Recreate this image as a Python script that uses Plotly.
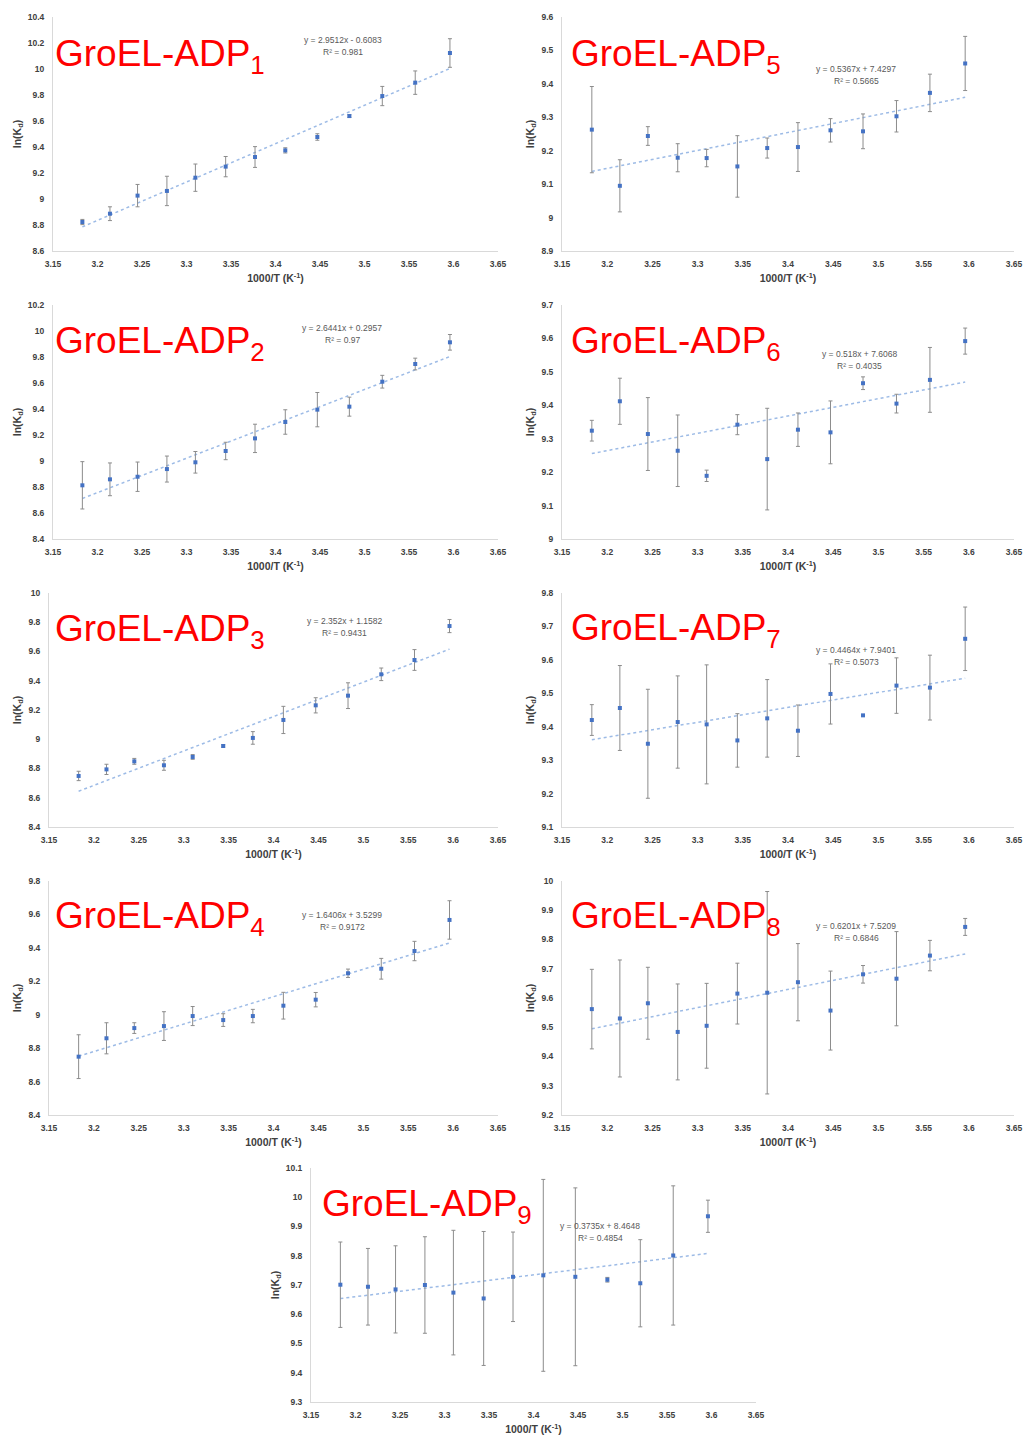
import plotly.graph_objects as go

W, H = 1024, 1442

# ---------------- data ----------------
x_vals = [3.183, 3.214, 3.245, 3.278, 3.310, 3.344, 3.377, 3.411, 3.447, 3.483, 3.520, 3.557, 3.596]

panel_names = ["GroEL-ADP<sub>1</sub>", "GroEL-ADP<sub>2</sub>", "GroEL-ADP<sub>3</sub>",
               "GroEL-ADP<sub>4</sub>", "GroEL-ADP<sub>5</sub>", "GroEL-ADP<sub>6</sub>",
               "GroEL-ADP<sub>7</sub>", "GroEL-ADP<sub>8</sub>", "GroEL-ADP<sub>9</sub>"]

y_adp1 = [8.823, 8.887, 9.026, 9.062, 9.164, 9.249, 9.323, 9.374, 9.477, 9.638, 9.792, 9.895, 10.123]
e_adp1 = [0.020, 0.053, 0.086, 0.113, 0.105, 0.078, 0.080, 0.020, 0.025, 0.010, 0.074, 0.090, 0.110]

y_adp2 = [8.813, 8.859, 8.879, 8.938, 8.990, 9.077, 9.174, 9.300, 9.395, 9.418, 9.610, 9.746, 9.913]
e_adp2 = [0.182, 0.126, 0.113, 0.100, 0.083, 0.067, 0.109, 0.094, 0.132, 0.073, 0.049, 0.045, 0.060]

y_adp3 = [8.749, 8.794, 8.849, 8.822, 8.879, 8.954, 9.009, 9.132, 9.232, 9.298, 9.444, 9.542, 9.774]
e_adp3 = [0.032, 0.035, 0.020, 0.034, 0.016, 0.008, 0.043, 0.093, 0.052, 0.088, 0.043, 0.071, 0.045]

y_adp4 = [8.749, 8.859, 8.920, 8.932, 8.992, 8.968, 8.992, 9.054, 9.090, 9.248, 9.275, 9.381, 9.567]
e_adp4 = [0.131, 0.093, 0.032, 0.086, 0.057, 0.038, 0.040, 0.080, 0.043, 0.025, 0.062, 0.058, 0.115]

y_adp5 = [9.263, 9.095, 9.244, 9.179, 9.178, 9.153, 9.208, 9.211, 9.261, 9.258, 9.303, 9.373, 9.461]
e_adp5 = [0.129, 0.078, 0.028, 0.042, 0.026, 0.092, 0.030, 0.073, 0.035, 0.052, 0.047, 0.056, 0.081]

y_adp6 = [9.324, 9.412, 9.314, 9.264, 9.189, 9.342, 9.239, 9.327, 9.319, 9.466, 9.405, 9.476, 9.592]
e_adp6 = [0.031, 0.069, 0.109, 0.107, 0.017, 0.030, 0.152, 0.050, 0.094, 0.019, 0.028, 0.097, 0.039]

y_adp7 = [9.420, 9.456, 9.349, 9.414, 9.407, 9.359, 9.425, 9.388, 9.498, 9.434, 9.523, 9.517, 9.663]
e_adp7 = [0.046, 0.127, 0.163, 0.138, 0.178, 0.080, 0.116, 0.077, 0.090, 0.000, 0.083, 0.097, 0.095]

y_adp8 = [9.562, 9.530, 9.582, 9.484, 9.505, 9.615, 9.618, 9.654, 9.557, 9.681, 9.666, 9.745, 9.843]
e_adp8 = [0.136, 0.200, 0.123, 0.164, 0.145, 0.104, 0.346, 0.132, 0.135, 0.030, 0.161, 0.052, 0.029]

y_adp9 = [9.701, 9.694, 9.685, 9.700, 9.674, 9.654, 9.728, 9.733, 9.728, 9.718, 9.706, 9.801, 9.935]
e_adp9 = [0.146, 0.131, 0.149, 0.165, 0.213, 0.229, 0.153, 0.328, 0.304, 0.008, 0.149, 0.238, 0.055]

fit_slope = [2.9512, 2.6441, 2.352, 1.6406, 0.5367, 0.518, 0.4464, 0.6201, 0.3735]
fit_intercept = [-0.6083, 0.2957, 1.1582, 3.5299, 7.4297, 7.6068, 7.9401, 7.5209, 8.4648]
fit_eq_text = ["y = 2.9512x - 0.6083", "y = 2.6441x + 0.2957", "y = 2.352x + 1.1582",
               "y = 1.6406x + 3.5299", "y = 0.5367x + 7.4297", "y = 0.518x + 7.6068",
               "y = 0.4464x + 7.9401", "y = 0.6201x + 7.5209", "y = 0.3735x + 8.4648"]
fit_r2_text = ["R² = 0.981", "R² = 0.97", "R² = 0.9431", "R² = 0.9172", "R² = 0.5665",
               "R² = 0.4035", "R² = 0.5073", "R² = 0.6846", "R² = 0.4854"]

x_tick_vals = [3.15, 3.2, 3.25, 3.3, 3.35, 3.4, 3.45, 3.5, 3.55, 3.6, 3.65]
x_tick_text = ["3.15", "3.2", "3.25", "3.3", "3.35", "3.4", "3.45", "3.5", "3.55", "3.6", "3.65"]

y_ticks = [
    [8.6, 8.8, 9.0, 9.2, 9.4, 9.6, 9.8, 10.0, 10.2, 10.4],
    [8.4, 8.6, 8.8, 9.0, 9.2, 9.4, 9.6, 9.8, 10.0, 10.2],
    [8.4, 8.6, 8.8, 9.0, 9.2, 9.4, 9.6, 9.8, 10.0],
    [8.4, 8.6, 8.8, 9.0, 9.2, 9.4, 9.6, 9.8],
    [8.9, 9.0, 9.1, 9.2, 9.3, 9.4, 9.5, 9.6],
    [9.0, 9.1, 9.2, 9.3, 9.4, 9.5, 9.6, 9.7],
    [9.1, 9.2, 9.3, 9.4, 9.5, 9.6, 9.7, 9.8],
    [9.2, 9.3, 9.4, 9.5, 9.6, 9.7, 9.8, 9.9, 10.0],
    [9.3, 9.4, 9.5, 9.6, 9.7, 9.8, 9.9, 10.0, 10.1],
]

ys = [y_adp1, y_adp2, y_adp3, y_adp4, y_adp5, y_adp6, y_adp7, y_adp8, y_adp9]
es = [e_adp1, e_adp2, e_adp3, e_adp4, e_adp5, e_adp6, e_adp7, e_adp8, e_adp9]

# ---------------- layout (pixel boxes: left, right, top, bottom) ----------------
boxes = [
    (53, 498, 17, 251), (53, 498, 305, 539), (49, 498, 593, 827), (49, 498, 881, 1115),
    (562, 1014, 17, 251), (562, 1014, 305, 539), (562, 1014, 593, 827), (562, 1014, 881, 1115),
    (311, 756, 1168, 1402),
]
title_pos = [(53, 56), (53, 343), (53, 631), (53, 918),
             (569, 56), (569, 343), (569, 630), (569, 918), (320, 1206)]
eq_pos = [(343, 40), (342, 328), (344, 621), (342, 915),
          (856, 69), (859, 354), (856, 650), (856, 926), (600, 1226)]

def px(xp):
    return xp / W

def py(yp):
    return 1 - yp / H

fig = go.Figure()
annotations = []
tick_font = dict(family="Liberation Sans", size=8.5, color="#404040", weight="bold")
title_font = dict(family="Liberation Sans", size=10.5, color="#404040", weight="bold")

for i in range(9):
    k = i + 1
    xa = "x" if k == 1 else f"x{k}"
    ya = "y" if k == 1 else f"y{k}"
    y = ys[i]
    e = es[i]
    # trendline
    xt = [x_vals[0], x_vals[-1]]
    yt = [fit_slope[i] * xv + fit_intercept[i] for xv in xt]
    fig.add_trace(go.Scatter(x=xt, y=yt, mode="lines", xaxis=xa, yaxis=ya,
                             line=dict(color="#9DBBE6", width=1.5, dash="dot"),
                             showlegend=False, hoverinfo="skip"))
    fig.add_trace(go.Scatter(x=x_vals, y=y, mode="markers", xaxis=xa, yaxis=ya,
                             marker=dict(symbol="square", size=4, color="#4472C4"),
                             error_y=dict(type="data", array=e, visible=True,
                                          color="#8C8C8C", thickness=1, width=2),
                             showlegend=False))
    l, r, t, b = boxes[i]
    yt_vals = y_ticks[i]
    yt_text = [f"{v:g}" for v in yt_vals]
    xkey = "xaxis" if k == 1 else f"xaxis{k}"
    ykey = "yaxis" if k == 1 else f"yaxis{k}"
    fig.layout[xkey] = dict(domain=[px(l), px(r)], anchor=ya, range=[3.15, 3.65],
                            automargin=False,
                            tickmode="array", tickvals=x_tick_vals, ticktext=x_tick_text,
                            showgrid=False, zeroline=False, showline=True,
                            linecolor="#D9D9D9", linewidth=1, ticks="",
                            ticklabelstandoff=5,
                            tickfont=tick_font,
                            title=dict(text="1000/T (K<sup>-1</sup>)", font=title_font, standoff=6))
    fig.layout[ykey] = dict(domain=[py(b), py(t)], anchor=xa,
                            automargin=False,
                            range=[yt_vals[0], yt_vals[-1]],
                            tickmode="array", tickvals=yt_vals, ticktext=yt_text,
                            showgrid=False, zeroline=False, showline=True,
                            linecolor="#D9D9D9", linewidth=1, ticks="",
                            ticklabelstandoff=6,
                            tickfont=tick_font,
                            title=dict(text="ln(K<sub>d</sub>)", font=title_font, standoff=4))
    tx, ty = title_pos[i]
    annotations.append(dict(x=px(tx), y=py(ty), xref="paper", yref="paper",
                            xanchor="left", yanchor="middle", showarrow=False,
                            text=panel_names[i],
                            font=dict(family="Liberation Sans", size=37, color="#FF0000")))
    ex, ey = eq_pos[i]
    annotations.append(dict(x=px(ex), y=py(ey), xref="paper", yref="paper",
                            xanchor="center", yanchor="middle", showarrow=False,
                            text=fit_eq_text[i],
                            font=dict(family="Liberation Sans", size=8.5, color="#595959")))
    annotations.append(dict(x=px(ex), y=py(ey + 12), xref="paper", yref="paper",
                            xanchor="center", yanchor="middle", showarrow=False,
                            text=fit_r2_text[i],
                            font=dict(family="Liberation Sans", size=8.5, color="#595959")))

fig.update_layout(width=W, height=H, margin=dict(l=0, r=0, t=0, b=0, autoexpand=False),
                  paper_bgcolor="white", plot_bgcolor="white",
                  annotations=annotations, showlegend=False)

fig.write_html("out.html")
